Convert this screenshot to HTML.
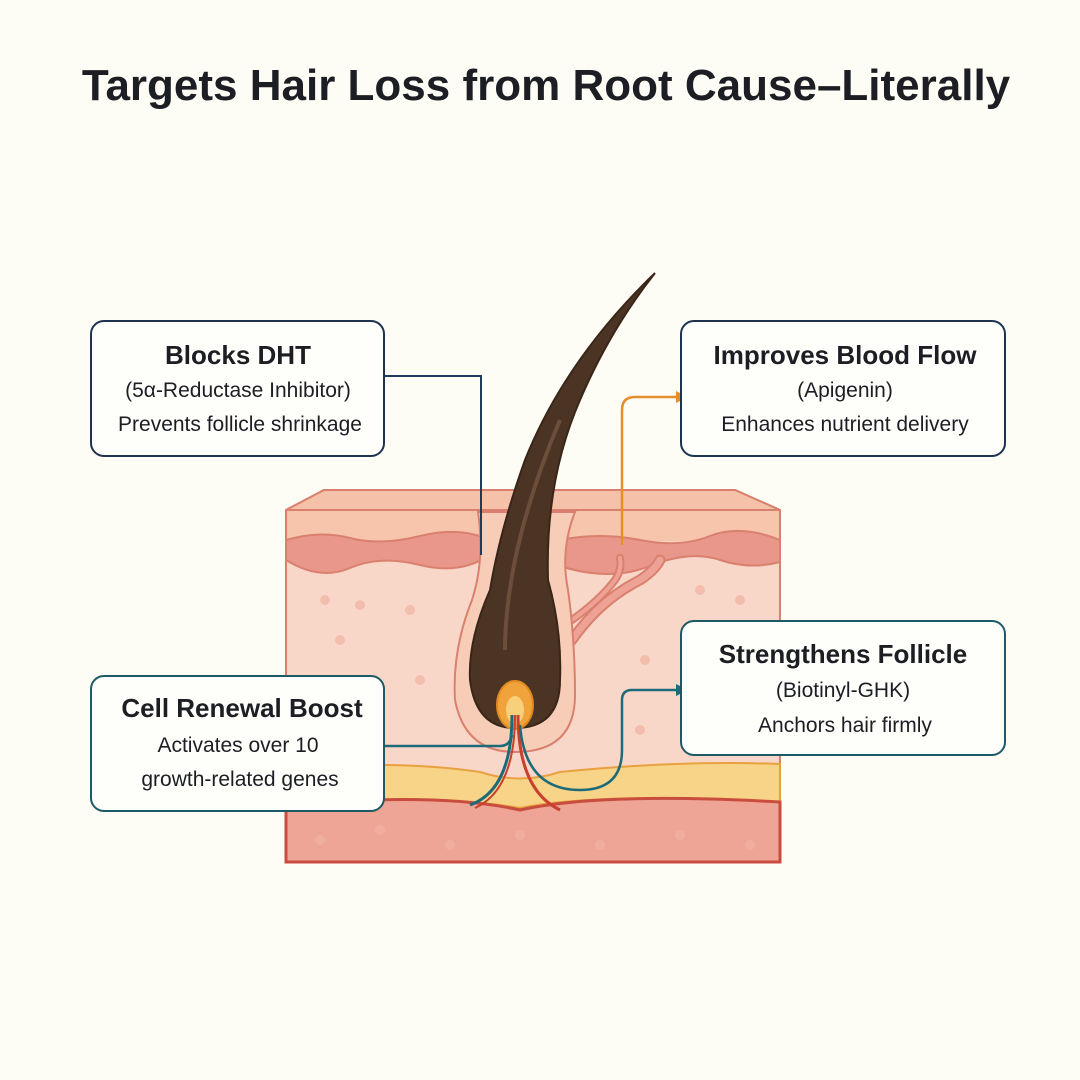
<!DOCTYPE html>
<html><head><meta charset="utf-8"><style>
html,body{margin:0;padding:0;background:#fdfcf5;}
svg{display:block}
text{font-family:"Liberation Sans",sans-serif;fill:#1c1e24}
</style></head><body>
<svg width="1080" height="1080" viewBox="0 0 1080 1080" xmlns="http://www.w3.org/2000/svg">
<rect width="1080" height="1080" fill="#fdfcf5"/>
<text x="546" y="100" font-size="44" font-weight="bold" text-anchor="middle">Targets Hair Loss from Root Cause–Literally</text>

<!-- skin block -->
<g stroke="#d9806e" stroke-width="2">
<path d="M324,490 L735,490 L780,510 L780,862 L286,862 L286,510 Z" fill="#f9d7c8"/>
<path d="M324,490 L735,490 L780,510 L286,510 Z" fill="#f5c1a8"/>
<rect x="287" y="511" width="492" height="30" fill="#f6c5ab" stroke="none"/>
<path d="M286,540 Q320,530 350,538 T420,536 T490,540 L490,555 Q460,575 420,565 T350,568 T286,560 Z" fill="#e9978a"/>
<path d="M560,540 Q600,532 640,540 T710,536 T780,540 L780,562 Q750,570 720,560 T650,566 T560,566 Z" fill="#e9978a"/>
<path d="M286,768 Q400,760 480,772 Q520,785 560,772 Q680,760 780,764 L780,802 Q600,792 520,808 Q440,794 286,805 Z" fill="#f8d488" stroke="#e9a040"/>
<path d="M286,805 Q440,792 520,810 Q600,792 780,802 L780,862 L286,862 Z" fill="#efa595" stroke="#c94d3e" stroke-width="3"/>
</g>
<g fill="#f1b3a3" opacity="0.7">
<circle cx="325" cy="600" r="5"/><circle cx="360" cy="605" r="5"/><circle cx="410" cy="610" r="5"/><circle cx="340" cy="640" r="5"/><circle cx="420" cy="680" r="5"/><circle cx="700" cy="590" r="5"/><circle cx="740" cy="600" r="5"/><circle cx="645" cy="660" r="5"/><circle cx="720" cy="700" r="5"/><circle cx="640" cy="730" r="5"/>
<circle cx="320" cy="840" r="5"/><circle cx="380" cy="830" r="5"/><circle cx="450" cy="845" r="5"/><circle cx="520" cy="835" r="5"/><circle cx="600" cy="845" r="5"/><circle cx="680" cy="835" r="5"/><circle cx="750" cy="845" r="5"/>
</g>
<!-- vessel branches -->
<g fill="none" stroke-linecap="round">
<path d="M572,640 Q600,600 640,580 Q655,570 660,560" stroke="#d9806e" stroke-width="11"/>
<path d="M572,640 Q600,600 640,580 Q655,570 660,560" stroke="#eea296" stroke-width="7"/>
<path d="M572,620 Q600,600 615,580 Q622,570 620,558" stroke="#d9806e" stroke-width="8"/>
<path d="M572,620 Q600,600 615,580 Q622,570 620,558" stroke="#eea296" stroke-width="4"/>
</g>
<!-- follicle -->
<path d="M478,512 Q485,560 472,600 Q452,650 455,700 Q465,752 515,752 Q575,752 575,695 Q575,640 568,590 Q560,550 575,512 Z" fill="#f8cdb8" stroke="#d9806e" stroke-width="2"/>
<!-- hair -->
<path d="M655,273 Q565,360 525,460 Q500,530 490,590 Q468,640 470,680 Q476,728 515,728 Q560,728 560,680 Q562,630 548,580 Q545,480 580,400 Q610,330 655,273 Z" fill="#4b3424" stroke="#3a2618" stroke-width="2"/>
<path d="M560,420 Q530,490 515,560 Q505,610 505,650" stroke="#7a5a45" stroke-width="4" fill="none" opacity="0.7"/>
<ellipse cx="515" cy="705" rx="18" ry="24" fill="#f0a33a" stroke="#e08a20" stroke-width="2"/>
<ellipse cx="515" cy="710" rx="9" ry="14" fill="#f8cf7a"/>
<!-- vessels from bulb -->
<path d="M512,715 Q512,790 470,805" stroke="#1d6b78" stroke-width="3" fill="none"/>
<path d="M518,715 Q518,790 560,810" stroke="#c8402f" stroke-width="3" fill="none"/>
<path d="M515,715 Q515,790 475,808" stroke="#c8402f" stroke-width="2" fill="none"/>

<!-- connectors -->
<path d="M384,376 H481 V555" stroke="#1e3a5c" stroke-width="2" fill="none"/>
<path d="M622,545 V410 Q622,397 635,397 H678" stroke="#e58f2a" stroke-width="2.5" fill="none"/>
<path d="M688,397 L676,391 L676,403 Z" fill="#e58f2a"/>
<path d="M384,746 H500 Q510,746 512,735" stroke="#1d6b78" stroke-width="2.5" fill="none"/>
<path d="M520,725 Q525,790 580,790 Q622,790 622,750 V700 Q622,690 632,690 H678" stroke="#1d6b78" stroke-width="2.5" fill="none"/>
<path d="M688,690 L676,684 L676,696 Z" fill="#1d6b78"/>

<!-- boxes -->
<rect x="91" y="321" width="293" height="135" rx="13" fill="#fefefb" stroke="#1e3350" stroke-width="2"/>
<text x="238" y="364" font-size="26" font-weight="bold" text-anchor="middle">Blocks DHT</text>
<text x="238" y="397" font-size="21" text-anchor="middle">(5α-Reductase Inhibitor)</text>
<text x="240" y="431" font-size="21" text-anchor="middle">Prevents follicle shrinkage</text>

<rect x="681" y="321" width="324" height="135" rx="13" fill="#fefefb" stroke="#1e3350" stroke-width="2"/>
<text x="845" y="364" font-size="26" font-weight="bold" text-anchor="middle">Improves Blood Flow</text>
<text x="845" y="397" font-size="21" text-anchor="middle">(Apigenin)</text>
<text x="845" y="431" font-size="21" text-anchor="middle">Enhances nutrient delivery</text>

<rect x="91" y="676" width="293" height="135" rx="13" fill="#fefefb" stroke="#1d5a66" stroke-width="2"/>
<text x="242" y="717" font-size="26" font-weight="bold" text-anchor="middle">Cell Renewal Boost</text>
<text x="238" y="752" font-size="21" text-anchor="middle">Activates over 10</text>
<text x="240" y="786" font-size="21" text-anchor="middle">growth-related genes</text>

<rect x="681" y="621" width="324" height="134" rx="13" fill="#fefefb" stroke="#1d5a66" stroke-width="2"/>
<text x="843" y="663" font-size="26" font-weight="bold" text-anchor="middle">Strengthens Follicle</text>
<text x="843" y="697" font-size="21" text-anchor="middle">(Biotinyl-GHK)</text>
<text x="845" y="732" font-size="21" text-anchor="middle">Anchors hair firmly</text>
</svg>
</body></html>
